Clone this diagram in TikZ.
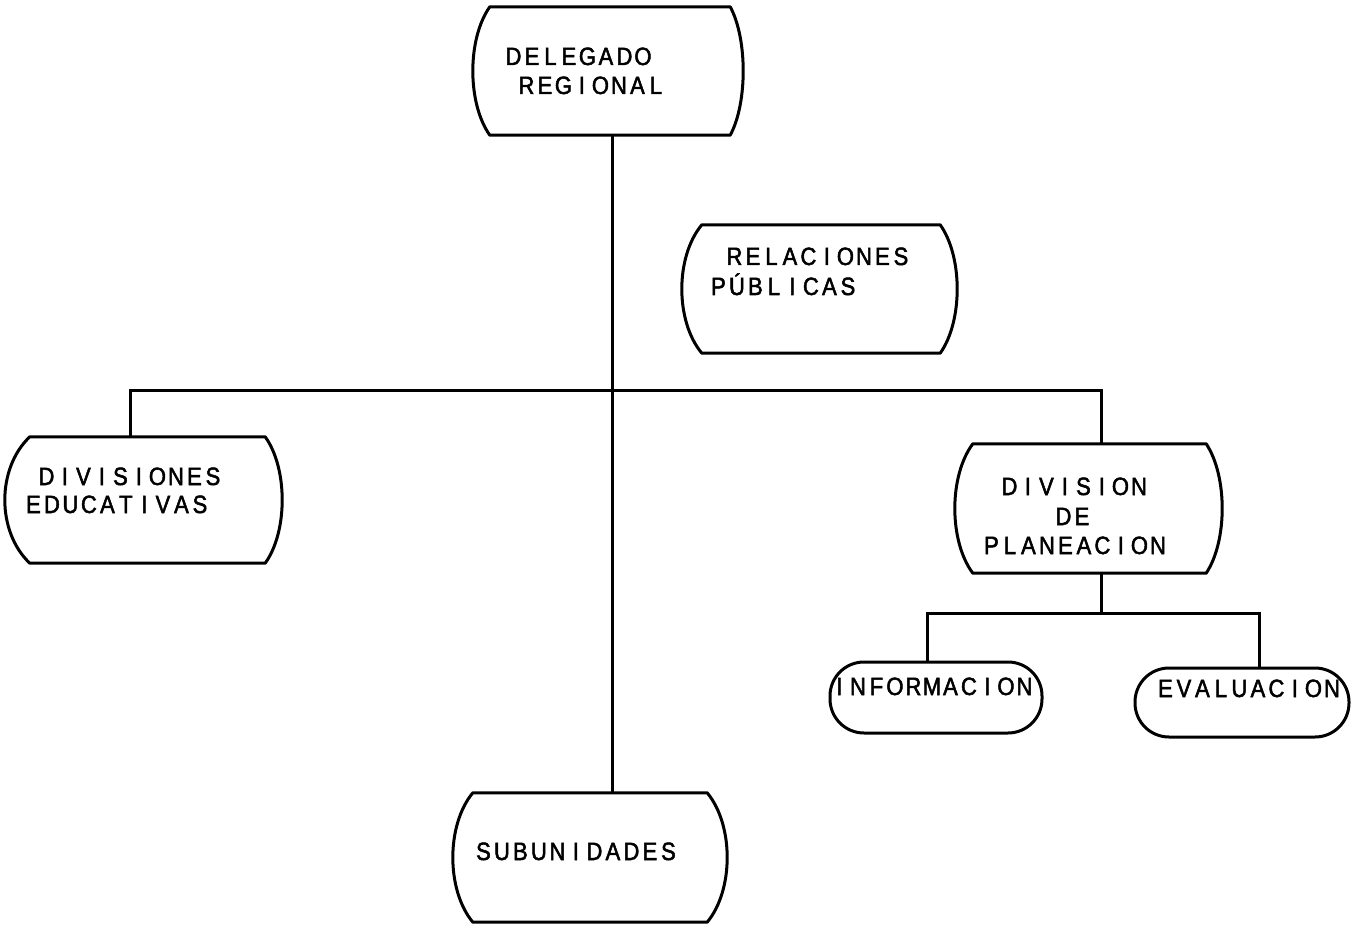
\documentclass[tikz,border=0pt]{standalone}
\usepackage{fontspec}
\setmainfont{Liberation Sans}
\newfontfamily\tw[FakeStretch=0.88, FakeBold=2]{Liberation Sans}
\makeatletter
\newcommand\mono[1]{\@tfor\mono@c:=#1\do{\makebox[18.5pt]{\mono@c}}}
\makeatother
\tikzset{
  box/.style={line width=3pt, line join=round, black},
  conn/.style={line width=3pt, black},
  txt/.style={inner sep=0pt, anchor=base west, font=\tw\fontsize{25}{28}\selectfont},
  pill/.style={draw, line width=3pt, rounded corners=34pt, inner sep=0pt},
}
% name, L, R, T, B, left bulge, right bulge
\newcommand\barrel[7]{%
  \node[inner sep=0pt, minimum width={(#3-#2)*1pt}, minimum height={(#5-#4)*1pt}]
     (#1) at ({(#2+#3)/2},{(#4+#5)/2}) {};
  \draw[box] (#1.north west) -- (#1.north east)
     .. controls +({#7/0.75},{(#5-#4)/4}) and +({#7/0.75},{-(#5-#4)/4}) .. (#1.south east)
     -- (#1.south west)
     .. controls +({-#6/0.75},{-(#5-#4)/4}) and +({-#6/0.75},{(#5-#4)/4}) .. (#1.north west) -- cycle;
}
\begin{document}
\begin{tikzpicture}[x=1pt,y=-1pt]
\useasboundingbox (0,0) rectangle (1352,925);
% boxes
\barrel{del}{490}{730}{7}{135}{17}{13}
\barrel{rel}{702}{940}{225}{353}{20}{17}
\barrel{edu}{30}{265}{437}{563}{25}{17}
\barrel{plan}{973}{1206}{444}{573}{18}{16}
\barrel{sub}{473}{707}{793}{922}{20}{20}
\node[pill, minimum width=212pt, minimum height=71pt] (info) at (936,697.5) {};
\node[pill, minimum width=214pt, minimum height=69pt] (eval) at (1242,702.5) {};
% texts
\node[txt] (t1) at (504,65) {\mono{DELEGADO}};
\node[txt] (t2) at (517,94) {\mono{REGIONAL}};
\node[txt] (t3) at (725,265) {\mono{RELACIONES}};
\node[txt] (t4) at (709,295) {\mono{PÚBLICAS}};
\node[txt] (t5) at (37,485) {\mono{DIVISIONES}};
\node[txt] (t6) at (24,513) {\mono{EDUCATIVAS}};
\node[txt] (t7) at (1000,495) {\mono{DIVISION}};
\node[txt] (t8) at (1054,525) {\mono{DE}};
\node[txt] (t9) at (982,554) {\mono{PLANEACION}};
\node[txt] (t10) at (830,695) {\mono{INFORMACION}};
\node[txt] (t11) at (1156,697) {\mono{EVALUACION}};
\node[txt] (t12) at (474,860) {\mono{SUBUNIDADES}};
% connectors
\coordinate (trunk) at (612,0);
\coordinate (busL) at (130,390);
\coordinate (busR) at (1101,390);
\coordinate (sbus) at (1101,613);
\coordinate (sbL) at (927,613);
\coordinate (sbR) at (1259,613);
\draw[conn] (del.south -| trunk) -- (sub.north -| trunk);
\draw[conn] (edu.north -| busL) -- (busL) -- (busR) -- (plan.north -| busR);
\draw[conn] (plan.south -| sbus) -- (sbus);
\draw[conn] (info.north -| sbL) -- (sbL) -- (sbR) -- (eval.north -| sbR);
\end{tikzpicture}
\end{document}
